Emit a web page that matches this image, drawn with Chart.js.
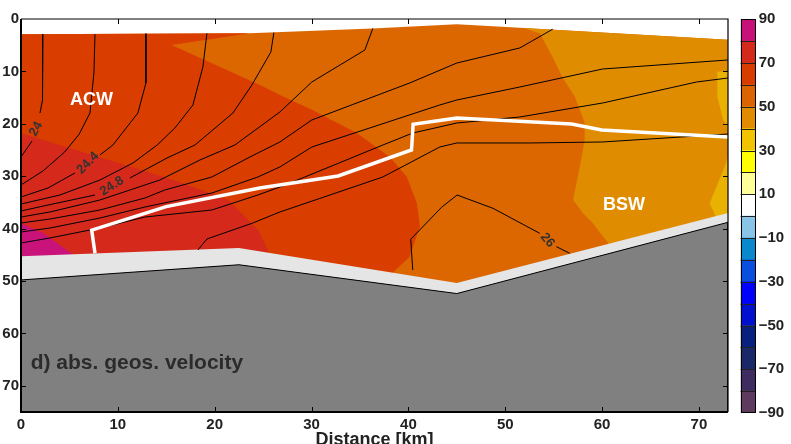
<!DOCTYPE html>
<html>
<head>
<meta charset="utf-8">
<style>
  html, body { margin: 0; padding: 0; background: #fff; }
  #wrap { position: relative; width: 791px; height: 444px; }
  #main { position: absolute; left: 0; top: 0; }
  #cbar { position: absolute; left: 730px; top: 0; }
</style>
<script src="https://cdn.jsdelivr.net/npm/chart.js@4.4.1/dist/chart.umd.min.js"></script>
</head>
<body>
<div id="wrap">
  <canvas id="main" width="791" height="444"></canvas>
  <canvas id="cbar" width="61" height="444"></canvas>
</div>
<script>
'use strict';

// ── Axes ──
const X_TICKS = [0, 10, 20, 30, 40, 50, 60, 70];
const Y_TICKS = [0, 10, 20, 30, 40, 50, 60, 70];
const CB_TICKS = [-90, -70, -50, -30, -10, 10, 30, 50, 70, 90];
const CB_EDGES = [-90, -80, -70, -60, -50, -40, -30, -20, -10, 0, 10, 20, 30, 40, 50, 60, 70, 80, 90];

// ── Section outline [km, m] ──
const SURFACE     = [[0, 2.9], [23.6, 2.72], [36.3, 1.8], [45, 1.0], [51.5, 1.68], [73, 3.95]];
const DATA_BOTTOM = [[0, 45.3], [22.5, 43.7], [45, 50.4], [73, 37.0]];
const SEABED      = [[0, 49.8], [22.5, 46.9], [45, 52.4], [73, 38.8]];

// ── Velocity classes (filled contours) ──
const V60_70 = [[0, 2.9], [23.6, 2.72], [15.55, 4.96], [24.66, 12.6], [26.73, 14.5], [30.13, 17.4],
  [34.67, 21.76], [38.08, 26.34], [39.84, 30.15], [40.87, 35.12], [41.2, 39.6], [40.1, 45.4],
  [38.4, 48.4], [38.4, 50.9], [22.5, 46.9], [0, 49.8]];
const V40_50 = [[51.8, 1.72], [73, 3.95], [73, 38.8], [60.9, 44.8], [60.6, 42.7], [59.0, 38.9],
  [58.0, 37.0], [57.0, 34.5], [57.7, 28.2], [58.2, 23.1], [58.2, 19.8], [57.2, 14.9],
  [55.9, 11.1], [54.9, 7.3], [53.56, 2.73]];
const V30_40_A = [[71.9, 10.06], [73, 9.9], [73, 20.4], [72.5, 19.28], [71.9, 14.83]];
const V30_40_B = [[73, 26.3], [72.65, 28.2], [71.1, 35.2], [71.6, 37.1], [72, 39.5], [73, 38.8]];
const V70_80 = [[0, 21.8], [13.3, 29.3], [16.2, 31.0], [21.4, 34.5], [23.1, 37.7], [24.5, 40.3],
  [25.5, 44.1], [25.6, 47.6], [0, 49.8]];
const V80_90 = [[0, 39.0], [2.3, 40.9], [5.4, 45.0], [5.6, 47.5], [0, 49.8]];

// ── Density contours (null = label gap) ──
const S240 = [[2.27, 2.9], [2.27, 9.16], [2.17, 15.46], [1.96, 17.94], null, [1.14, 23.28], [0, 26.34]];
const S242 = [[7.64, 2.9], [7.53, 10.31], [7.12, 17.94], [6.0, 22.0], [4.5, 25.4], [2.27, 29.0], [0, 31.68]];
const S244 = [[12.9, 2.8], [12.9, 12.21], [12.07, 17.94], [9.49, 24.05], [8.15, 25.95], null,
  [5.57, 29.39], [2.79, 32.25], [0, 33.97]];
const S246 = [[19.2, 2.75], [18.78, 9.16], [17.75, 16.41], [15.89, 20.8], [14.06, 24.05],
  [11.56, 27.48], [8.15, 30.73], [4.02, 33.59], [0, 35.31]];
const S248 = [[26.11, 2.6], [25.8, 6.3], [23.84, 12.6], [21.88, 17.94], [17.96, 24.05],
  [15.07, 26.53], [11.25, 30.34], null, [7.64, 33.59], [2.79, 35.5], [0, 36.64]];
const S250 = [[36.33, 1.8], [35.5, 5.92], [30.03, 12.02], [26.73, 17.75], [22.08, 24.05],
  [18.47, 26.91], [14.34, 30.73], [8.15, 34.54], [2.99, 36.83], [0, 37.79]];
const S252 = [[54.9, 1.95], [51.5, 5.53], [45.0, 8.4], [40.14, 12.21], [30.03, 19.27], [26.73, 23.47],
  [23.63, 26.34], [19.71, 30.15], [14.86, 32.63], [12.8, 34.16], [8.15, 36.45], [2.99, 38.17], [0, 38.93]];
const S254 = [[73, 7.82], [60.06, 9.54], [51.5, 12.98], [45.0, 15.46], [43.24, 16.41], [30.03, 24.43],
  [26.73, 28.24], [24.46, 30.15], [19.71, 33.21], [12.8, 35.88], [8.15, 37.98], [2.99, 39.89], [0, 40.65]];
const S256 = [[73, 11.26], [69.76, 12.02], [60.06, 16.03], [51.5, 18.7], [45.0, 19.85], [40.45, 21.76],
  [37.36, 24.05], [29.31, 30.15], [26.73, 32.06], [24.46, 33.59], [19.71, 36.45], [12.8, 37.79],
  [8.15, 39.89], [2.99, 41.79], [0, 42.75]];
const S258 = [[73, 21.95], [60.06, 23.47], [52.53, 23.66], [45.0, 23.66], [43.24, 24.43], [37.36, 30.15],
  [26.73, 36.83], [23.94, 38.93], [19.2, 41.98], [18.27, 44.08]];
const S260 = [[40.45, 47.9], [40.24, 42.04], [43.42, 35.94], [45.03, 33.59], [48.74, 36.13],
  [53.56, 40.9], null, [55.28, 43.45], [56.66, 44.72]];

// ── Water mass boundary ──
const FRONT = [[7.64, 44.7], [7.3, 40.3], [15.0, 35.8], [24.66, 32.25], [32.75, 29.96], [40.32, 25.0],
  [40.49, 20.1], [45.0, 18.89], [56.86, 20.04], [59.96, 21.18], [73, 22.5]];

// ── Texts ──
const CONTOUR_LABELS = ['24', '24.4', '24.8', '26'];
const CONTOUR_LABEL_AT = [[1.55, 21.0, -62], [6.91, 27.5, -45], [9.39, 31.9, -33], [54.35, 42.2, 50]];
const MASS_LABELS = ['ACW', 'BSW'];
const MASS_LABEL_AT = [[7.28, 16.4], [62.26, 36.45]];
const PANEL_TITLE = 'd) abs. geos. velocity';

// ── Palette (colorbar order, -90 → 90) ──
const CB_COLORS = ['#5e3a5e', '#3e2c60', '#1a2868', '#08207e', '#0010cc', '#0000ff', '#0a4ee0', '#0a88cc',
  '#88c4e8', '#ffffff', '#ffff99', '#ffff00', '#f0c400', '#e08c00', '#dc6400', '#d83c00', '#d42a1c', '#c8107a'];
const FONT = "'Liberation Sans', Arial, Helvetica, sans-serif";
const TEXT_DARK = '#222';

const toXY = arr => arr.map(p => p ? { x: p[0], y: p[1] } : { x: null, y: null });
const rev = a => a.slice().reverse();

// layers are pushed bottom → top
const layers = [];
function area(points, color) {
  layers.push({ data: toXY(points), fill: 'shape', backgroundColor: color,
    borderColor: 'transparent', borderWidth: 0, pointRadius: 0 });
}
function line(points, color, width) {
  layers.push({ data: toXY(points), fill: false, borderColor: color,
    borderWidth: width, pointRadius: 0 });
}

area(SURFACE.concat(rev(SEABED)), '#dc6600');
area(V60_70, '#d93d00');
area(V40_50, '#e08c00');
area(V30_40_A, '#e9b100');
area(V30_40_B, '#e9b100');
area(V70_80, '#d5291b');
area(V80_90, '#c9137a');
area(DATA_BOTTOM.concat(rev(SEABED)), '#e5e5e5');
layers.push({ data: toXY(SEABED.concat([[73, 75], [0, 75]])), fill: 'shape', backgroundColor: '#808080',
  borderColor: '#000', borderWidth: 1, pointRadius: 0 });
[S240, S242, S244, S246, S248, S250, S252, S254, S256, S258, S260].forEach(s => line(s, '#000', 1));
line(FRONT, '#fff', 3.5);

const datasets = layers.map((d, i) => Object.assign(d, { order: layers.length - i }));

// ── Plugins ──
const textPlugin = {
  id: 'texts',
  afterDatasetsDraw(chart) {
    const { ctx, scales: { x, y } } = chart;
    ctx.save();
    ctx.textAlign = 'center';
    ctx.textBaseline = 'middle';
    ctx.fillStyle = '#333';
    ctx.font = 'bold 13px ' + FONT;
    CONTOUR_LABELS.forEach((t, i) => {
      const [kx, ky, ang] = CONTOUR_LABEL_AT[i];
      ctx.save();
      ctx.translate(x.getPixelForValue(kx), y.getPixelForValue(ky));
      ctx.rotate(ang * Math.PI / 180);
      ctx.fillText(t, 0, 0);
      ctx.restore();
    });
    ctx.textBaseline = 'alphabetic';
    ctx.fillStyle = '#fff';
    ctx.font = 'bold 18px ' + FONT;
    MASS_LABELS.forEach((t, i) => {
      const [kx, ky] = MASS_LABEL_AT[i];
      ctx.fillText(t, x.getPixelForValue(kx), y.getPixelForValue(ky));
    });
    ctx.textAlign = 'left';
    ctx.fillStyle = '#2b2b2b';
    ctx.font = 'bold 21px ' + FONT;
    ctx.fillText(PANEL_TITLE, x.getPixelForValue(1.0), y.getPixelForValue(66.8));
    ctx.restore();
  }
};

const framePlugin = {
  id: 'frame',
  afterDraw(chart) {
    const { ctx, chartArea: a, scales: { x, y } } = chart;
    ctx.save();
    ctx.strokeStyle = '#000';
    ctx.lineWidth = 1;
    ctx.beginPath();
    X_TICKS.slice(1).forEach(v => {
      const px = Math.round(x.getPixelForValue(v)) + 0.5;
      ctx.moveTo(px, a.bottom); ctx.lineTo(px, a.bottom - 5);
      ctx.moveTo(px, a.top); ctx.lineTo(px, a.top + 5);
    });
    Y_TICKS.slice(1).forEach(v => {
      const py = Math.round(y.getPixelForValue(v)) + 0.5;
      ctx.moveTo(a.left, py); ctx.lineTo(a.left + 5, py);
      ctx.moveTo(a.right, py); ctx.lineTo(a.right - 5, py);
    });
    ctx.stroke();
    ctx.lineWidth = 1.2;
    ctx.beginPath();
    ctx.moveTo(a.left, a.top); ctx.lineTo(a.right, a.top); ctx.lineTo(a.right, a.bottom);
    ctx.stroke();
    ctx.lineWidth = 2;
    ctx.beginPath();
    ctx.moveTo(a.left, a.top); ctx.lineTo(a.left, a.bottom); ctx.lineTo(a.right, a.bottom);
    ctx.stroke();
    ctx.restore();
  }
};

const tickFont = { family: FONT, size: 15, weight: 'bold' };

new Chart(document.getElementById('main'), {
  type: 'line',
  data: { datasets },
  options: {
    responsive: false,
    animation: false,
    events: [],
    layout: { padding: { top: 19, right: 63, left: 0, bottom: 0 } },
    plugins: { legend: { display: false }, tooltip: { enabled: false } },
    scales: {
      x: {
        type: 'linear', min: 0, max: 73,
        afterBuildTicks: s => { s.ticks = X_TICKS.map(v => ({ value: v })); },
        afterFit: s => { s.height = 32; },
        ticks: { font: tickFont, color: TEXT_DARK, padding: 4, maxRotation: 0, autoSkip: false },
        grid: { display: false, drawTicks: false },
        border: { display: false },
        title: { display: true, text: 'Distance [km]', color: TEXT_DARK,
          font: { family: FONT, size: 18, weight: 'bold', lineHeight: 1 }, padding: { top: 0, bottom: -5 } }
      },
      y: {
        type: 'linear', min: 0, max: 75, reverse: true,
        afterBuildTicks: s => { s.ticks = Y_TICKS.map(v => ({ value: v })); },
        afterFit: s => { s.width = 21; },
        ticks: { font: tickFont, color: TEXT_DARK, padding: 2, autoSkip: false },
        grid: { display: false, drawTicks: false },
        border: { display: false }
      }
    }
  },
  plugins: [textPlugin, framePlugin]
});

// ── Colorbar ──
const cbFrame = {
  id: 'cbFrame',
  afterDatasetsDraw(chart) {
    const { ctx, chartArea: a, scales: { y } } = chart;
    ctx.save();
    ctx.strokeStyle = '#222';
    ctx.lineWidth = 1;
    ctx.beginPath();
    CB_EDGES.slice(1, -1).forEach(v => {
      const py = Math.round(y.getPixelForValue(v)) + 0.5;
      ctx.moveTo(a.left, py); ctx.lineTo(a.right, py);
    });
    ctx.stroke();
    ctx.strokeStyle = '#000';
    ctx.strokeRect(Math.round(a.left) + 0.5, Math.round(a.top) + 0.5,
      Math.round(a.right - a.left) - 1, Math.round(a.bottom - a.top) - 1);
    ctx.restore();
  }
};

new Chart(document.getElementById('cbar'), {
  type: 'bar',
  data: {
    labels: [''],
    datasets: CB_COLORS.map((c, i) => ({
      data: [[CB_EDGES[i], CB_EDGES[i + 1]]],
      backgroundColor: c, borderWidth: 0,
      barPercentage: 1, categoryPercentage: 1
    }))
  },
  options: {
    responsive: false,
    animation: false,
    events: [],
    layout: { padding: { top: 19.3, left: 10.7, bottom: 31, right: 0 } },
    plugins: { legend: { display: false }, tooltip: { enabled: false } },
    scales: {
      x: { display: false, stacked: true },
      y: {
        position: 'right', min: -90, max: 90,
        afterBuildTicks: s => { s.ticks = CB_TICKS.map(v => ({ value: v })); },
        afterFit: s => { s.width = 35.3; },
        ticks: { font: tickFont, color: TEXT_DARK, padding: 3, autoSkip: false,
          callback: v => v < 0 ? '\u2212' + (-v) : String(v) },
        grid: { display: false, drawTicks: false },
        border: { display: false }
      }
    }
  },
  plugins: [cbFrame]
});
</script>
</body>
</html>
